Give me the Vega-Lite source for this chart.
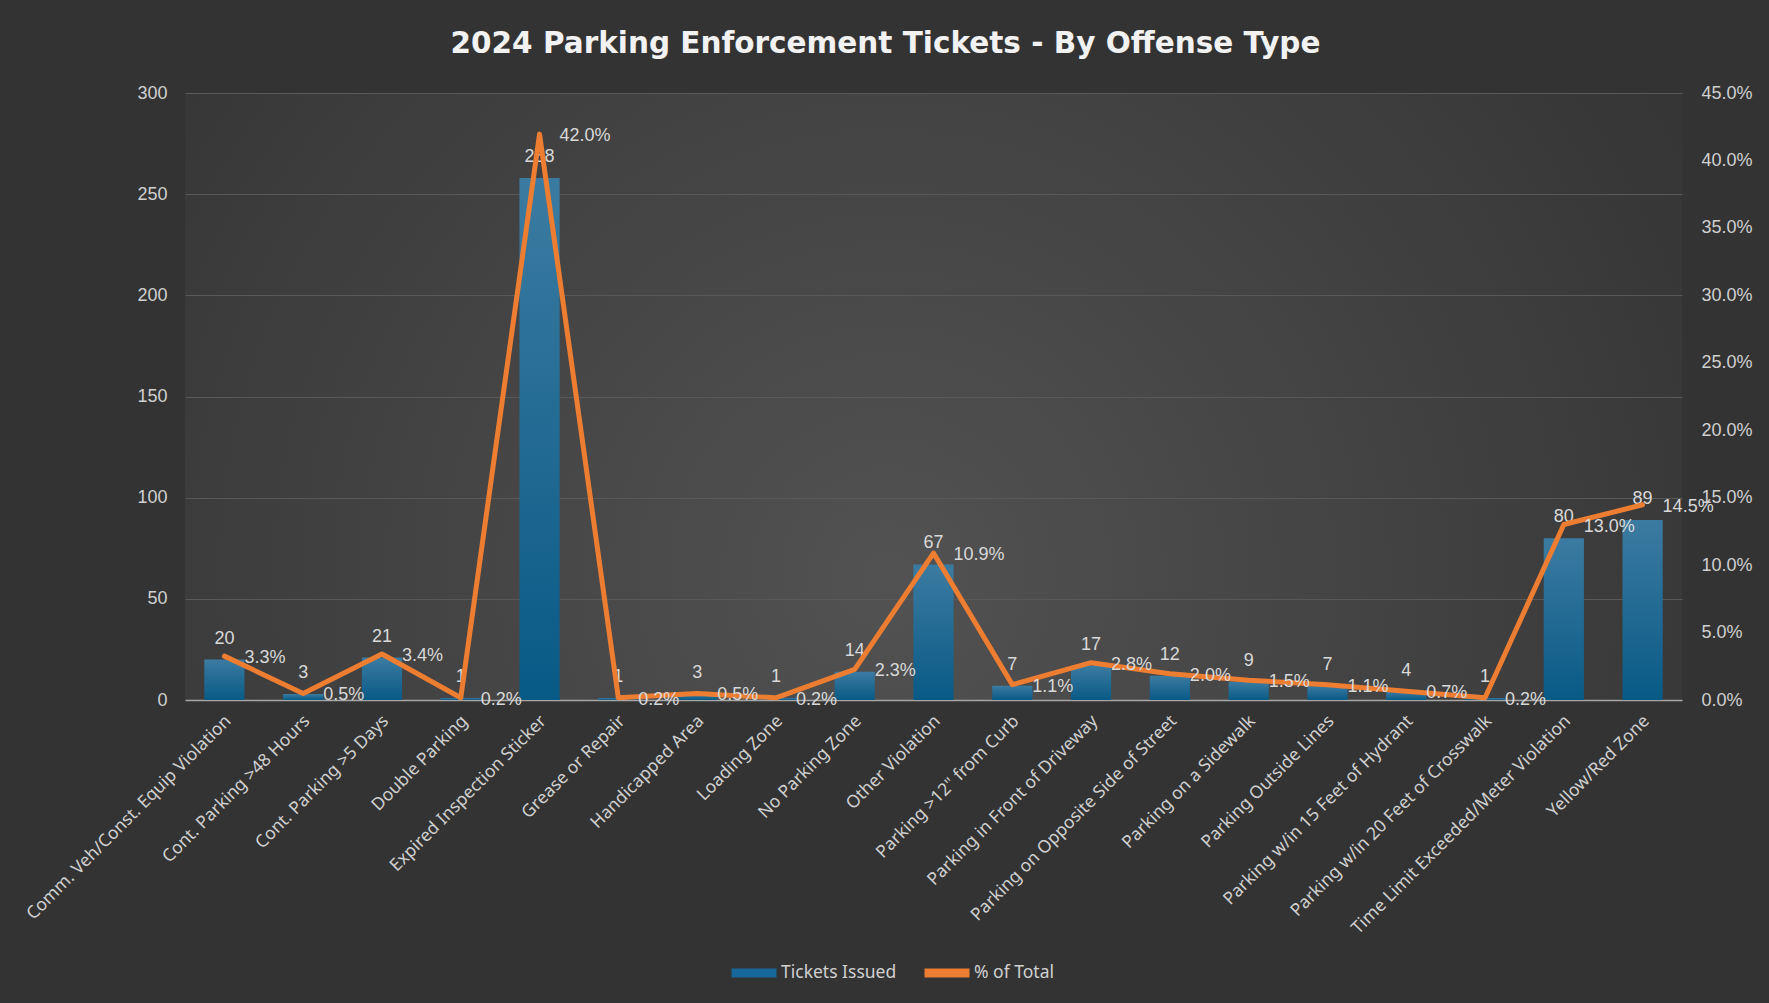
{
  "$schema": "https://vega.github.io/schema/vega-lite/v6.json",
  "width": 1497,
  "height": 607,
  "autosize": {"type": "none"},
  "padding": {"left": 185, "top": 93, "right": 87, "bottom": 303},
  "background": "#333333",
  "view": {
    "stroke": null,
    "fill": {
      "gradient": "radial",
      "x1": 0.47, "y1": 0.62, "r1": 0,
      "x2": 0.47, "y2": 0.62, "r2": 0.62,
      "stops": [
        {"offset": 0, "color": "#525252"},
        {"offset": 1, "color": "#353535"}
      ]
    }
  },
  "title": {
    "text": "2024 Parking Enforcement Tickets - By Offense Type",
    "font": "DejaVu Sans",
    "fontSize": 29.5,
    "fontWeight": "bold",
    "color": "#f2f2f2",
    "frame": "group",
    "anchor": "middle",
    "baseline": "alphabetic",
    "dx": -48,
    "offset": 2
  },
  "data": {
    "values": [
      {"offense": "Comm. Veh/Const. Equip Violation", "tickets": 20, "pct": 0.03252},
      {"offense": "Cont. Parking >48 Hours", "tickets": 3, "pct": 0.004878},
      {"offense": "Cont. Parking >5 Days", "tickets": 21, "pct": 0.034146},
      {"offense": "Double Parking", "tickets": 1, "pct": 0.001626},
      {"offense": "Expired Inspection Sticker", "tickets": 258, "pct": 0.419512},
      {"offense": "Grease or Repair", "tickets": 1, "pct": 0.001626},
      {"offense": "Handicapped Area", "tickets": 3, "pct": 0.004878},
      {"offense": "Loading Zone", "tickets": 1, "pct": 0.001626},
      {"offense": "No Parking Zone", "tickets": 14, "pct": 0.022764},
      {"offense": "Other Violation", "tickets": 67, "pct": 0.108943},
      {"offense": "Parking >12\" from Curb", "tickets": 7, "pct": 0.011382},
      {"offense": "Parking in Front of Driveway", "tickets": 17, "pct": 0.027642},
      {"offense": "Parking on Opposite Side of Street", "tickets": 12, "pct": 0.019512},
      {"offense": "Parking on a Sidewalk", "tickets": 9, "pct": 0.014634},
      {"offense": "Parking Outside Lines", "tickets": 7, "pct": 0.011382},
      {"offense": "Parking w/in 15 Feet of Hydrant", "tickets": 4, "pct": 0.006504},
      {"offense": "Parking w/in 20 Feet of Crosswalk", "tickets": 1, "pct": 0.001626},
      {"offense": "Time Limit Exceeded/Meter Violation", "tickets": 80, "pct": 0.130081},
      {"offense": "Yellow/Red Zone", "tickets": 89, "pct": 0.144715}
    ]
  },
  "encoding": {
    "x": {
      "field": "offense",
      "type": "nominal",
      "sort": null,
      "scale": {"paddingInner": 0.49, "paddingOuter": 0.245},
      "axis": {
        "title": null,
        "labelAngle": -45,
        "labelAlign": "right",
        "labelBaseline": "middle",
        "labelPadding": 18,
        "labelOffset": 4,
        "labelFont": "Noto Sans",
        "labelFontSize": 17.5,
        "labelColor": "#d0d0d0",
        "labelLimit": 0,
        "domainColor": "#a6a6a6",
        "domainWidth": 1.5,
        "ticks": false,
        "grid": false
      }
    }
  },
  "layer": [
    {
      "layer": [
        {
          "mark": {
            "type": "bar",
            "fill": {
              "gradient": "linear",
              "x1": 0, "y1": 0, "x2": 0, "y2": 1,
              "stops": [
                {"offset": 0, "color": "#3c7ba1"},
                {"offset": 1, "color": "#085a86"}
              ]
            }
          },
          "encoding": {
            "y": {
              "field": "tickets",
              "type": "quantitative",
              "scale": {"domain": [0, 300], "nice": false},
              "axis": {
                "title": null,
                "orient": "left",
                "values": [0, 50, 100, 150, 200, 250, 300],
                "grid": true,
                "gridColor": "#595959",
                "gridWidth": 1,
                "domain": false,
                "ticks": false,
                "labelPadding": 18,
                "labelFont": "Liberation Sans",
                "labelFontSize": 18,
                "labelColor": "#d0d0d0"
              }
            }
          }
        },
        {
          "mark": {
            "type": "text",
            "baseline": "middle",
            "align": "center",
            "dy": -21,
            "font": "Liberation Sans",
            "fontSize": 18,
            "color": "#d9d9d9"
          },
          "encoding": {
            "y": {"field": "tickets", "type": "quantitative"},
            "text": {"field": "tickets", "type": "quantitative"}
          }
        }
      ]
    },
    {
      "layer": [
        {
          "mark": {
            "type": "line",
            "strokeWidth": 5,
            "strokeCap": "round",
            "strokeJoin": "round"
          },
          "encoding": {
            "y": {
              "field": "pct",
              "type": "quantitative",
              "scale": {"domain": [0, 0.45], "nice": false},
              "axis": {
                "title": null,
                "orient": "right",
                "format": ".1%",
                "values": [0, 0.05, 0.1, 0.15, 0.2, 0.25, 0.3, 0.35, 0.4, 0.45],
                "grid": false,
                "domain": false,
                "ticks": false,
                "labelPadding": 19,
                "labelFont": "Liberation Sans",
                "labelFontSize": 18,
                "labelColor": "#d0d0d0"
              }
            },
            "color": {
              "datum": "% of Total",
              "type": "nominal",
              "scale": {
                "domain": ["Tickets Issued", "% of Total"],
                "range": ["#16699a", "#ED7D31"]
              },
              "legend": {
                "title": null,
                "orient": "none",
                "legendX": 542,
                "legendY": 853,
                "direction": "horizontal",
                "symbolType": "stroke",
                "symbolSize": 2025,
                "symbolStrokeWidth": 9,
                "labelFont": "Noto Sans",
                "labelFontSize": 17.5,
                "labelColor": "#d0d0d0",
                "labelOffset": 0,
                "columnPadding": 9
              }
            }
          }
        },
        {
          "mark": {
            "type": "text",
            "baseline": "middle",
            "align": "left",
            "dx": 20,
            "dy": 2,
            "font": "Liberation Sans",
            "fontSize": 18,
            "color": "#d9d9d9"
          },
          "encoding": {
            "y": {"field": "pct", "type": "quantitative"},
            "text": {"field": "pct", "type": "quantitative", "format": ".1%"}
          }
        }
      ]
    }
  ],
  "resolve": {"scale": {"y": "independent"}},
  "config": {"view": {"stroke": null}}
}
